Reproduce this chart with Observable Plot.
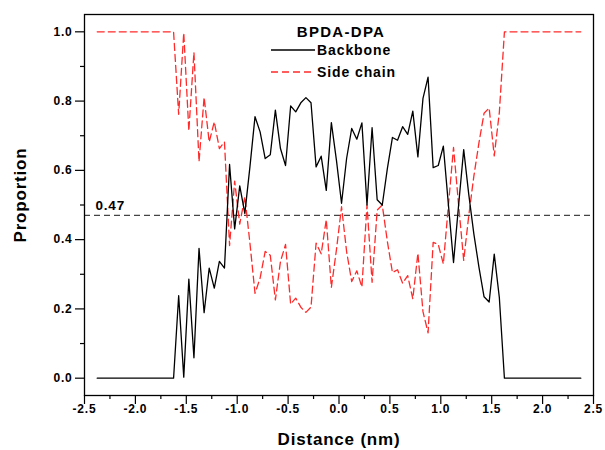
<!DOCTYPE html>
<html>
<head>
<meta charset="utf-8">
<script src="https://cdn.jsdelivr.net/npm/d3@7"></script>
<script src="https://cdn.jsdelivr.net/npm/@observablehq/plot@0.6"></script>
<style>
  html, body { margin: 0; padding: 0; background: #fff; }
  #wrap { position: relative; width: 605px; height: 450px; }
  #legend { position: absolute; left: 0; top: 0; pointer-events: none; }
  #legend text { font-family: "Liberation Sans", Arial, sans-serif; font-weight: bold; }
</style>
</head>
<body>
<div id="wrap"></div>
<script>
// Distance (nm) of each bin
const distance = [
  -2.375, -1.625, -1.575, -1.525, -1.475, -1.425, -1.375, -1.325, -1.275, -1.225,
  -1.175, -1.125, -1.075, -1.025, -0.975, -0.925, -0.875, -0.825, -0.775, -0.725,
  -0.675, -0.625, -0.575, -0.525, -0.475, -0.425, -0.375, -0.325, -0.275, -0.225,
  -0.175, -0.125, -0.075, -0.025, 0.025, 0.075, 0.125, 0.175, 0.225, 0.275,
  0.325, 0.375, 0.425, 0.475, 0.525, 0.575, 0.625, 0.675, 0.725, 0.775,
  0.825, 0.875, 0.925, 0.975, 1.025, 1.075, 1.125, 1.175, 1.225, 1.275,
  1.325, 1.375, 1.425, 1.475, 1.525, 1.575, 1.625, 2.375
];
// Backbone proportion
const backbone = [
  0, 0, 0.238, 0.003, 0.286, 0.059, 0.375, 0.189, 0.318, 0.26,
  0.337, 0.318, 0.617, 0.431, 0.555, 0.476, 0.61, 0.755, 0.711, 0.634,
  0.645, 0.774, 0.663, 0.614, 0.786, 0.769, 0.795, 0.81, 0.795, 0.61,
  0.641, 0.542, 0.738, 0.629, 0.505, 0.635, 0.721, 0.69, 0.737, 0.5,
  0.723, 0.515, 0.5, 0.605, 0.695, 0.687, 0.726, 0.704, 0.771, 0.639,
  0.808, 0.869, 0.608, 0.614, 0.67, 0.5, 0.334, 0.5, 0.66, 0.53,
  0.416, 0.32, 0.235, 0.22, 0.358, 0.233, 0, 0
];
// Side chain proportion
const sideChain = [
  1, 1, 0.762, 0.997, 0.714, 0.941, 0.625, 0.811, 0.682, 0.74,
  0.663, 0.682, 0.383, 0.569, 0.445, 0.524, 0.39, 0.245, 0.289, 0.366,
  0.355, 0.226, 0.337, 0.386, 0.214, 0.231, 0.205, 0.19, 0.205, 0.39,
  0.359, 0.458, 0.262, 0.371, 0.495, 0.365, 0.279, 0.31, 0.263, 0.5,
  0.277, 0.485, 0.5, 0.395, 0.305, 0.313, 0.274, 0.296, 0.229, 0.361,
  0.192, 0.131, 0.392, 0.386, 0.33, 0.5, 0.666, 0.5, 0.34, 0.47,
  0.584, 0.68, 0.765, 0.78, 0.642, 0.767, 1, 1
];
const refLevel = 0.47;
const xTicks = [-2.5, -2.0, -1.5, -1.0, -0.5, 0.0, 0.5, 1.0, 1.5, 2.0, 2.5];
const xMinorTicks = [-2.25, -1.75, -1.25, -0.75, -0.25, 0.25, 0.75, 1.25, 1.75, 2.25];
const yTicks = [0.0, 0.2, 0.4, 0.6, 0.8, 1.0];
const yMinorTicks = [0.1, 0.3, 0.5, 0.7, 0.9];
const titleText = "BPDA-DPA";
const seriesNames = ["Backbone", "Side chain"];
const xLabel = "Distance (nm)";
const yLabel = "Proportion";

const rows = distance.map((d, i) => ({d, backbone: backbone[i], side: sideChain[i]}));
const fmt = v => v.toFixed(1);

const chart = Plot.plot({
  width: 605,
  height: 450,
  marginLeft: 84,
  marginRight: 12,
  marginTop: 14,
  marginBottom: 55,
  x: {domain: [-2.5, 2.5]},
  y: {domain: [-0.05, 1.05]},
  style: {
    fontFamily: '"Liberation Sans", Arial, sans-serif',
    fontWeight: "bold",
    fontSize: "12px",
    color: "black",
    background: "white",
    letterSpacing: "0.8px"
  },
  marks: [
    Plot.ruleY([refLevel], {stroke: "#444", strokeWidth: 1.1, strokeDasharray: "6,4"}),
    Plot.line(rows, {x: "d", y: "side", stroke: "#ff2a2a", strokeWidth: 1.3, strokeDasharray: "7,4"}),
    Plot.line(rows, {x: "d", y: "backbone", stroke: "black", strokeWidth: 1.3}),
    Plot.text([refLevel], {x: -2.5, y: d => d, text: d => d.toFixed(2), dx: 11, dy: -10,
      textAnchor: "start", fontSize: 13.5, fill: "black"}),
    Plot.frame({stroke: "black", strokeWidth: 1.3}),
    Plot.axisX(xTicks, {anchor: "bottom", tickSize: 9, tickPadding: 0, tickFormat: fmt,
      label: null, strokeWidth: 1.2, fontSize: 12}),
    Plot.axisX(xMinorTicks, {anchor: "bottom", tickSize: 4, tickFormat: () => "", label: null, strokeWidth: 1.2}),
    Plot.axisY(yTicks, {anchor: "left", tickSize: 9, tickPadding: 3, tickFormat: fmt,
      label: null, strokeWidth: 1.2, fontSize: 12}),
    Plot.axisY(yMinorTicks, {anchor: "left", tickSize: 4, tickFormat: () => "", label: null, strokeWidth: 1.2}),
    Plot.text([xLabel], {frameAnchor: "bottom", dy: 44, lineAnchor: "middle", textAnchor: "middle",
      fontSize: 17, letterSpacing: "1.4px", text: d => d}),
    Plot.text([yLabel], {frameAnchor: "left", dx: -64, dy: -10, rotate: -90, lineAnchor: "middle", textAnchor: "middle",
      fontSize: 17, letterSpacing: "1.4px", text: d => d})
  ]
});

const wrap = document.getElementById("wrap");
wrap.appendChild(chart);

// Legend overlay
const ns = "http://www.w3.org/2000/svg";
const leg = document.createElementNS(ns, "svg");
leg.setAttribute("id", "legend");
leg.setAttribute("width", 605);
leg.setAttribute("height", 450);
function el(tag, attrs, txt) {
  const e = document.createElementNS(ns, tag);
  for (const k in attrs) e.setAttribute(k, attrs[k]);
  if (txt != null) e.textContent = txt;
  leg.appendChild(e);
  return e;
}
el("text", {x: 341, y: 31, "text-anchor": "middle", "dominant-baseline": "central", "font-size": 15, "letter-spacing": "1.3px"}, titleText);
const legStyles = [
  {stroke: "black", dash: null, y: 50},
  {stroke: "#ff2a2a", dash: "7,4", y: 72}
];
seriesNames.forEach((name, i) => {
  const s = legStyles[i];
  const a = {x1: 271, x2: 315, y1: s.y, y2: s.y, stroke: s.stroke, "stroke-width": 1.3};
  if (s.dash) a["stroke-dasharray"] = s.dash;
  el("line", a);
  el("text", {x: 317, y: s.y, "dominant-baseline": "central", "font-size": 14, "letter-spacing": "0.9px"}, name);
});
wrap.appendChild(leg);
</script>
</body>
</html>
